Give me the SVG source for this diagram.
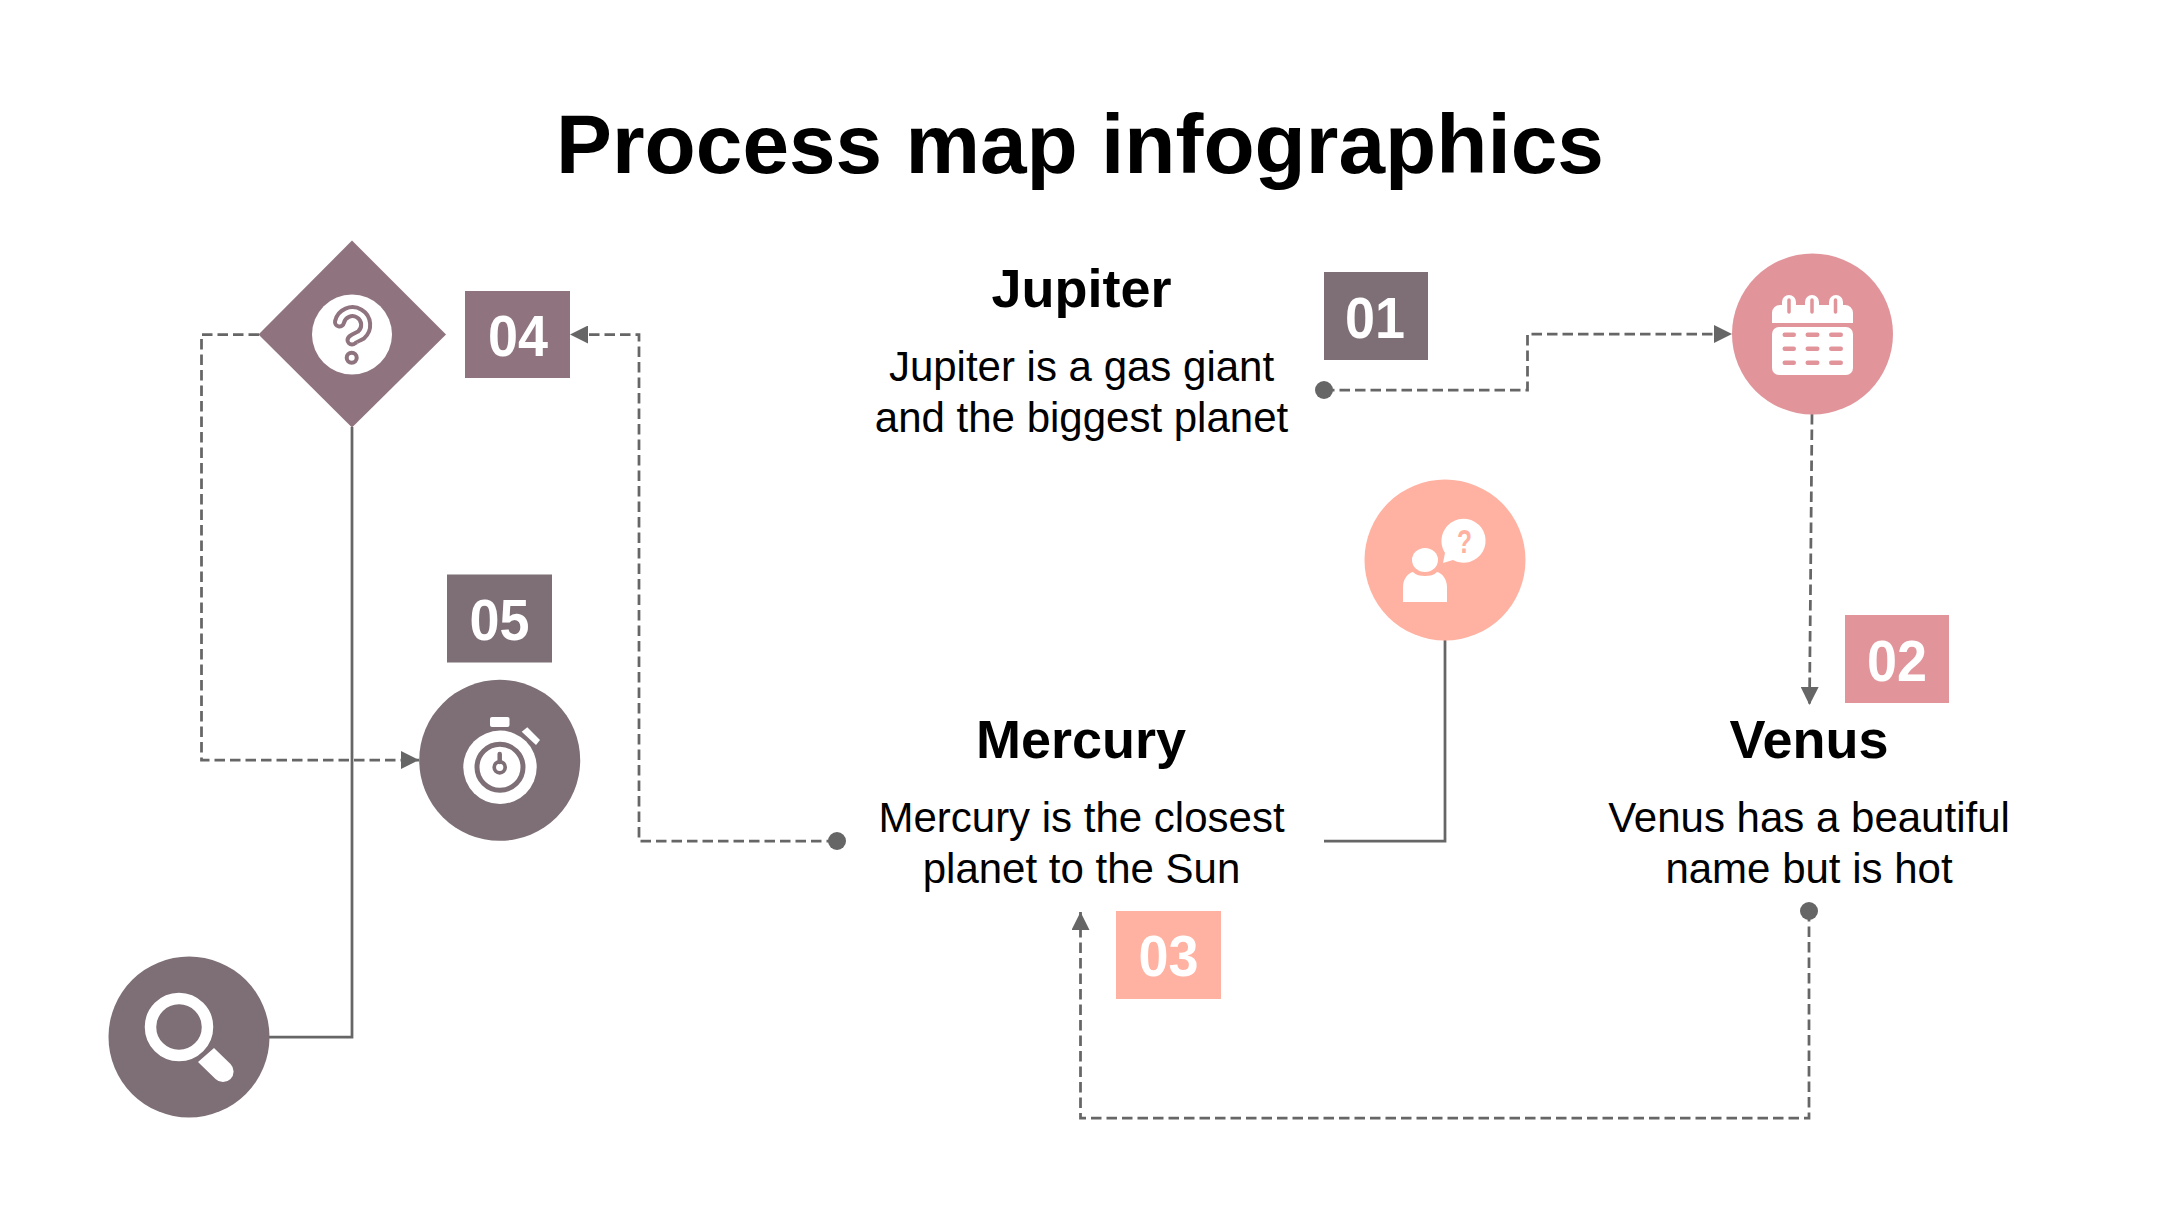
<svg xmlns="http://www.w3.org/2000/svg" width="2160" height="1215" viewBox="0 0 2160 1215">
<style>
text{font-family:"Liberation Sans",Arial,sans-serif}
.t{font-size:83.8px;font-weight:700;fill:#000;text-anchor:middle}
.h{font-size:54px;font-weight:700;fill:#000;text-anchor:middle}
.b{font-size:42px;fill:#000;text-anchor:middle}
.n{font-size:57px;font-weight:700;fill:#fff;text-anchor:middle}
.d{fill:none;stroke:#666;stroke-width:2.750;stroke-dasharray:10.500 5}
.s{fill:none;stroke:#666;stroke-width:2.750}
.g{fill:#7d6f75}.m{fill:#8f737e}.r{fill:#e1959b}.p{fill:#ffb2a1}
.w{fill:#fff}
</style>
<defs>
<marker id="a" markerUnits="userSpaceOnUse" markerWidth="18" markerHeight="18" refX="18" refY="9" orient="auto"><path d="M0 0L18 9L0 18Z" fill="#666"/></marker>
</defs>
<rect width="2160" height="1215" fill="#fff"/>
<text class="t" x="1080" y="173">Process map infographics</text>
<g id="connectors">
<path class="d" d="M1324 390H1527.500V334H1732" marker-end="url(#a)"/>
<path class="d" d="M1812 414L1809.500 705" marker-end="url(#a)"/>
<path class="d" d="M1809 911V1118H1080.500V912" marker-end="url(#a)"/>
<path class="d" d="M837 841H639V334.500H570" marker-end="url(#a)"/>
<path class="d" d="M259 334.500H201.500V760H419" marker-end="url(#a)"/>
<path class="s" d="M352 427V1037H269"/>
<path class="s" d="M1445 640V841H1324"/>
<circle cx="1324" cy="390" r="9" fill="#666"/>
<circle cx="1809" cy="911" r="9" fill="#666"/>
<circle cx="837" cy="841" r="9" fill="#666"/>
</g>
<g id="node-jupiter">
<text class="h" x="1081.500" y="306.500">Jupiter</text>
<text class="b" x="1081.500" y="381">Jupiter is a gas giant</text>
<text class="b" x="1081.500" y="431.500">and the biggest planet</text>
<rect class="g" x="1324" y="272" width="104" height="88"/>
<text class="n" x="1375" y="337.500" textLength="60" lengthAdjust="spacingAndGlyphs">01</text>
</g>
<g id="node-calendar">
<circle class="r" cx="1812.500" cy="334" r="80.500"/>
<path class="w" d="M1772 323V313a8 8 0 0 1 8-8h2v-3a7 7 0 0 1 14 0v3h9v-3a7 7 0 0 1 14 0v3h10v-3a7 7 0 0 1 14 0v3h2a8 8 0 0 1 8 8v10Z"/>
<path d="M1789 300v12M1812 300v12M1835.500 300v12" fill="none" stroke="#e1959b" stroke-width="3.500" stroke-linecap="round"/>
<rect class="w" x="1772" y="327" width="81" height="48" rx="7"/>
<g fill="#e1959b"><rect x="1782.500" y="332.500" width="13.500" height="4.500" rx="2.200"/><rect x="1805.500" y="332.500" width="14" height="4.500" rx="2.200"/><rect x="1829" y="332.500" width="14" height="4.500" rx="2.200"/><rect x="1782.500" y="346.500" width="13.500" height="4.500" rx="2.200"/><rect x="1805.500" y="346.500" width="14" height="4.500" rx="2.200"/><rect x="1829" y="346.500" width="14" height="4.500" rx="2.200"/><rect x="1782.500" y="360.500" width="13.500" height="4.500" rx="2.200"/><rect x="1805.500" y="360.500" width="14" height="4.500" rx="2.200"/><rect x="1829" y="360.500" width="14" height="4.500" rx="2.200"/></g>
</g>
<g id="node-venus">
<rect class="r" x="1845" y="615" width="104" height="88"/>
<text class="n" x="1897" y="680.500" textLength="60" lengthAdjust="spacingAndGlyphs">02</text>
<text class="h" x="1809" y="757.500">Venus</text>
<text class="b" x="1809" y="832">Venus has a beautiful</text>
<text class="b" x="1809" y="883">name but is hot</text>
</g>
<g id="node-mercury">
<text class="h" x="1081" y="758">Mercury</text>
<text class="b" x="1081.500" y="832">Mercury is the closest</text>
<text class="b" x="1081.500" y="883">planet to the Sun</text>
<rect class="p" x="1116" y="911" width="105" height="88"/>
<text class="n" x="1168.500" y="975.500" textLength="60" lengthAdjust="spacingAndGlyphs">03</text>
</g>
<g id="node-question-person">
<circle class="p" cx="1445" cy="560" r="80.500"/>
<path class="w" d="M1445 529a22 22 0 1 1 8 31l-10 3l2-10a22 22 0 0 1 0-24Z"/>
<text x="1464.500" y="553" font-size="33" font-weight="700" text-anchor="middle" fill="#ffb2a1" textLength="15" lengthAdjust="spacingAndGlyphs">?</text>
<ellipse class="w" cx="1425" cy="560" rx="13" ry="12"/>
<path class="w" d="M1403 602V587c0-8 5-14 10-15c3 3 7 4 12 4s9-1 12-4c5 1 10 7 10 15v15Z"/>
</g>
<g id="node-diamond">
<path class="m" d="M352 240.500L446 334.500L352 427.500L258.500 334.500Z"/>
<circle class="w" cx="352" cy="334.500" r="40"/>
<path d="M339.500 322A13.250 13.250 0 1 1 361 335C355 338 352 339.500 352 340" fill="none" stroke="#8f737e" stroke-width="13" stroke-linecap="round"/>
<path d="M339.500 322A13.250 13.250 0 1 1 361 335C355 338 352 339.500 352 340" fill="none" stroke="#fff" stroke-width="5" stroke-linecap="round"/>
<circle cx="351.700" cy="357.700" r="5" fill="#fff" stroke="#8f737e" stroke-width="4"/>
</g>
<g id="node-04">
<rect class="m" x="465" y="291" width="105" height="87"/>
<text class="n" x="518" y="356" textLength="60" lengthAdjust="spacingAndGlyphs">04</text>
</g>
<g id="node-05">
<rect class="g" x="447" y="574.500" width="105" height="88"/>
<text class="n" x="499.500" y="639.500" textLength="60" lengthAdjust="spacingAndGlyphs">05</text>
</g>
<g id="node-stopwatch">
<circle class="g" cx="499.700" cy="760.300" r="80.500"/>
<circle class="w" cx="500" cy="767.300" r="36.700"/>
<circle cx="500" cy="767.300" r="23" fill="none" stroke="#7d6f75" stroke-width="5"/>
<rect class="w" x="490" y="717" width="19.500" height="10" rx="2"/>
<path class="w" d="M521.700 731.700L527.300 727.300L540 740L536 745Z"/>
<circle cx="499.700" cy="767.300" r="5.500" fill="none" stroke="#7d6f75" stroke-width="3.700"/>
<path d="M499.700 762V754" stroke="#7d6f75" stroke-width="4.500" stroke-linecap="round"/>
</g>
<g id="node-search">
<circle class="g" cx="189" cy="1037" r="80.500"/>
<circle cx="179" cy="1027" r="28.500" fill="none" stroke="#fff" stroke-width="11.500"/>
<path class="w" d="M198 1062L214 1048L230.500 1064a10.500 10.500 0 0 1-15 15Z"/>
</g>
</svg>
